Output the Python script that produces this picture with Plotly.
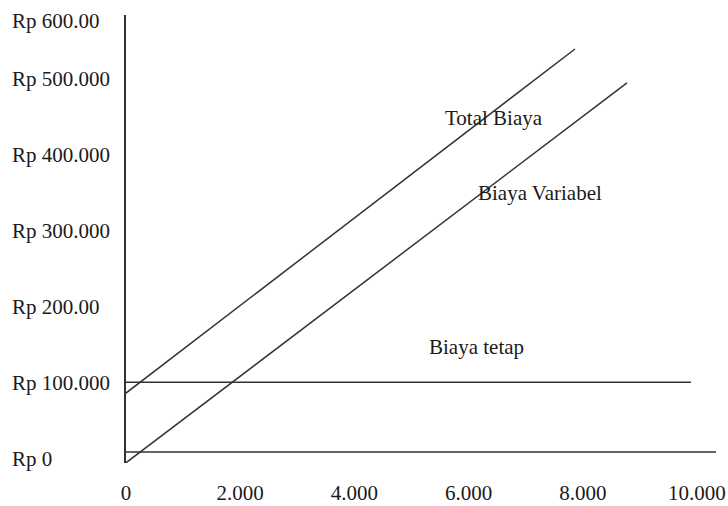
import plotly.graph_objects as go

# Data
fixed_x = [0, 9895]
fixed_y = [101000, 101000]
total_x = [0, 7863]
total_y = [86800, 539500]
variable_x = [0, 8774]
variable_y = [-5000, 494800]
baseline_x = [0, 10333]
baseline_y = [9200, 9200]

x_tickvals = [0, 2000, 4000, 6000, 8000, 10000]
x_ticktext = ["0", "2.000", "4.000", "6.000", "8.000", "10.000"]
y_tickvals = [0, 100000, 200000, 300000, 400000, 500000, 576000]
y_ticktext = ["Rp 0", "Rp 100.000", "Rp 200.00", "Rp 300.000", "Rp 400.000", "Rp 500.000", "Rp 600.00"]

series_labels = ["Total Biaya", "Biaya Variabel", "Biaya tetap"]
label_x = [6445, 7250, 6130]
label_y = [448700, 350000, 147400]

FONT = "Liberation Serif, Times New Roman, serif"
LINE = "#333333"
TEXT = "#1a1a1a"
FS = 21

fig = go.Figure()
for xs, ys, name in [(fixed_x, fixed_y, "Biaya tetap"), (total_x, total_y, "Total Biaya"),
                     (variable_x, variable_y, "Biaya Variabel"), (baseline_x, baseline_y, "baseline")]:
    fig.add_trace(go.Scatter(x=xs, y=ys, mode="lines", name=name,
                             line=dict(color=LINE, width=1.5), showlegend=False,
                             cliponaxis=False, hoverinfo="skip"))

for t, x, y in zip(series_labels, label_x, label_y):
    fig.add_annotation(x=x, y=y, xref="x", yref="y", text=t, showarrow=False,
                       font=dict(family=FONT, size=FS, color=TEXT))

for v, t in zip(y_tickvals, y_ticktext):
    fig.add_annotation(x=0, xref="paper", y=v, yref="y", text=t, showarrow=False,
                       xanchor="left", xshift=-116,
                       font=dict(family=FONT, size=FS, color=TEXT))

fig.update_layout(
    width=728, height=506, autosize=False,
    margin=dict(l=126, r=6, t=15, b=43, pad=0),
    paper_bgcolor="white", plot_bgcolor="white",
    font=dict(family=FONT, size=FS, color=TEXT),
    xaxis=dict(range=[0, 10438], showgrid=False, zeroline=False, showline=False,
               automargin=False,
               tickvals=x_tickvals, ticktext=x_ticktext, ticks="",
               ticklabelstandoff=15, tickfont=dict(family=FONT, size=FS, color=TEXT)),
    yaxis=dict(range=[-5263, 584211], showgrid=False, zeroline=False, showline=True,
               automargin=False,
               linecolor=LINE, linewidth=1.5, showticklabels=False, ticks=""),
)

fig.write_html("out.html", config={"displayModeBar": False},
               post_script="document.body.style.margin='0';document.body.style.overflow='hidden';")
